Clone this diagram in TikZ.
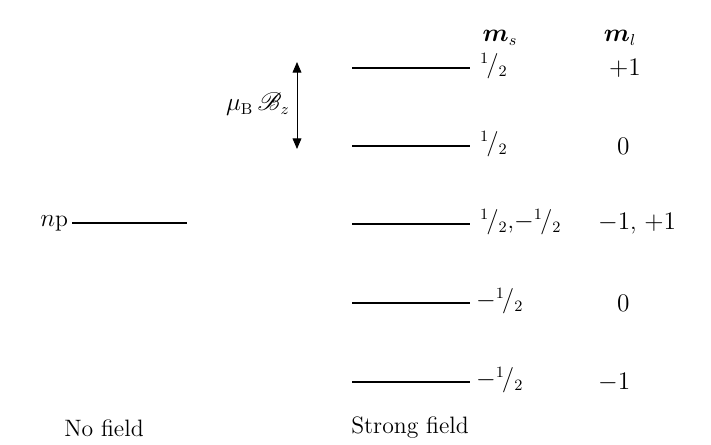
\documentclass[tikz,border=0pt]{standalone}
\usepackage{bm}
\usepackage{mathrsfs}
\usetikzlibrary{arrows.meta, positioning}
\newcommand{\halfms}{${}^{1}\mkern-2mu/{}_{2}$}
\newcommand{\mhalfms}{$-{}^{1}\mkern-2mu/{}_{2}$}

\begin{document}
\begin{tikzpicture}[
    x=0.02cm, y=-0.02cm,
    level/.style={line width=0.9pt},
    lab/.style={font=\fontsize{13.5}{16}\selectfont, inner sep=1pt},
    >={Triangle[length=6pt, width=5pt]}
  ]
    \useasboundingbox (0,0) rectangle (711,445);
    % no field
    \coordinate (np1) at (72,223);
    \coordinate (np2) at (187,223);
    \draw[level] (np1) -- (np2);
    \node[lab, left=1pt of np1] (np) {$n$p};
    \node[lab] (nofield) at (104,428) {No field};
    % strong field levels
    \foreach \y/\i in {68/1, 146/2, 224/3, 303/4, 382/5} {
      \coordinate (s\i a) at (352,\y);
      \coordinate (s\i b) at (470,\y);
      \draw[level] (s\i a) -- (s\i b);
    }
    \node[lab, anchor=west] (ms1) at (478,66) {\halfms};
    \node[lab, anchor=west] (ms2) at (478,144) {\halfms};
    \node[lab, anchor=west] (ms3) at (478,222) {\halfms,\mhalfms};
    \node[lab, anchor=west] (ms4) at (474,301) {\mhalfms};
    \node[lab, anchor=west] (ms5) at (474,380) {\mhalfms};
    \node[lab, anchor=west] (ml1) at (607,68) {$+1$};
    \node[lab, anchor=west] (ml2) at (615,146) {$0$};
    \node[lab, anchor=west] (ml3) at (596,224) {$-1$, $+1$};
    \node[lab, anchor=west] (ml4) at (615,303) {$0$};
    \node[lab, anchor=west] (ml5) at (596,382) {$-1$};
    \node[lab] (hms) at (500,38) {$\bm{m}_s$};
    \node[lab] (hml) at (620,38) {$\bm{m}_l$};
    \node[lab] (strong) at (410,428) {Strong field};
    % splitting
    \coordinate (top) at (297,62);
    \coordinate (bot) at (297,149);
    \coordinate (mid) at (297,104);
    \draw[<->, line width=0.5pt] (top) -- (bot);
    \node[lab, left=3pt of mid] (mub) {$\mu_{\mathrm{B}}\,\mathscr{B}_z$};
\end{tikzpicture}
\end{document}
